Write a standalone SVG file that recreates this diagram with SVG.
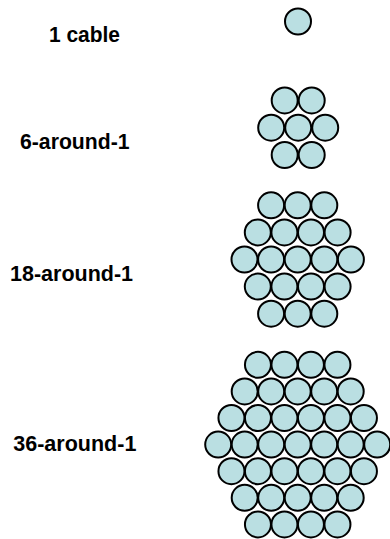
<svg xmlns="http://www.w3.org/2000/svg" xmlns:xlink="http://www.w3.org/1999/xlink" width="390" height="539" viewBox="0 0 390 539">
<style>
.c{fill:#badfe2;stroke:#000;stroke-width:2}
.t{font-family:"Liberation Sans",Arial,Helvetica,sans-serif;font-weight:bold;font-size:21.5px;fill:#000}
</style>
<defs><circle id="w" class="c" r="13"/></defs>
<rect width="390" height="539" fill="#fff"/>
<g id="label-1"><text class="t" x="49" y="41.5" textLength="71" lengthAdjust="spacingAndGlyphs">1 cable</text></g>
<g id="label-6"><text class="t" x="20" y="149" textLength="109.5" lengthAdjust="spacingAndGlyphs">6-around-1</text></g>
<g id="label-18"><text class="t" x="10" y="281">18-around-1</text></g>
<g id="label-36"><text class="t" x="13.3" y="451">36-around-1</text></g>
<g id="bundle-1"><use xlink:href="#w" x="298" y="21.5"/></g>
<g id="bundle-6">
<use xlink:href="#w" x="284.7" y="100.4"/><use xlink:href="#w" x="311.7" y="100.4"/>
<use xlink:href="#w" x="271.2" y="127.7"/><use xlink:href="#w" x="298.2" y="127.7"/><use xlink:href="#w" x="325.2" y="127.7"/>
<use xlink:href="#w" x="284.7" y="155"/><use xlink:href="#w" x="311.7" y="155"/>
</g>
<g id="bundle-18">
<use xlink:href="#w" x="271.1" y="205.3"/><use xlink:href="#w" x="297.7" y="205.3"/><use xlink:href="#w" x="324.3" y="205.3"/>
<use xlink:href="#w" x="257.8" y="232.4"/><use xlink:href="#w" x="284.4" y="232.4"/><use xlink:href="#w" x="311" y="232.4"/><use xlink:href="#w" x="337.6" y="232.4"/>
<use xlink:href="#w" x="244.5" y="259.5"/><use xlink:href="#w" x="271.1" y="259.5"/><use xlink:href="#w" x="297.7" y="259.5"/><use xlink:href="#w" x="324.3" y="259.5"/><use xlink:href="#w" x="350.9" y="259.5"/>
<use xlink:href="#w" x="257.8" y="286.6"/><use xlink:href="#w" x="284.4" y="286.6"/><use xlink:href="#w" x="311" y="286.6"/><use xlink:href="#w" x="337.6" y="286.6"/>
<use xlink:href="#w" x="271.1" y="313.7"/><use xlink:href="#w" x="297.7" y="313.7"/><use xlink:href="#w" x="324.3" y="313.7"/>
</g>
<g id="bundle-36">
<use xlink:href="#w" x="257.95" y="364.8"/><use xlink:href="#w" x="284.45" y="364.8"/><use xlink:href="#w" x="310.95" y="364.8"/><use xlink:href="#w" x="337.45" y="364.8"/>
<use xlink:href="#w" x="244.7" y="391.4"/><use xlink:href="#w" x="271.2" y="391.4"/><use xlink:href="#w" x="297.7" y="391.4"/><use xlink:href="#w" x="324.2" y="391.4"/><use xlink:href="#w" x="350.7" y="391.4"/>
<use xlink:href="#w" x="231.45" y="418"/><use xlink:href="#w" x="257.95" y="418"/><use xlink:href="#w" x="284.45" y="418"/><use xlink:href="#w" x="310.95" y="418"/><use xlink:href="#w" x="337.45" y="418"/><use xlink:href="#w" x="363.95" y="418"/>
<use xlink:href="#w" x="218.2" y="444.6"/><use xlink:href="#w" x="244.7" y="444.6"/><use xlink:href="#w" x="271.2" y="444.6"/><use xlink:href="#w" x="297.7" y="444.6"/><use xlink:href="#w" x="324.2" y="444.6"/><use xlink:href="#w" x="350.7" y="444.6"/><use xlink:href="#w" x="377.2" y="444.6"/>
<use xlink:href="#w" x="231.45" y="471.2"/><use xlink:href="#w" x="257.95" y="471.2"/><use xlink:href="#w" x="284.45" y="471.2"/><use xlink:href="#w" x="310.95" y="471.2"/><use xlink:href="#w" x="337.45" y="471.2"/><use xlink:href="#w" x="363.95" y="471.2"/>
<use xlink:href="#w" x="244.7" y="497.8"/><use xlink:href="#w" x="271.2" y="497.8"/><use xlink:href="#w" x="297.7" y="497.8"/><use xlink:href="#w" x="324.2" y="497.8"/><use xlink:href="#w" x="350.7" y="497.8"/>
<use xlink:href="#w" x="257.95" y="524.4"/><use xlink:href="#w" x="284.45" y="524.4"/><use xlink:href="#w" x="310.95" y="524.4"/><use xlink:href="#w" x="337.45" y="524.4"/>
</g>
</svg>
